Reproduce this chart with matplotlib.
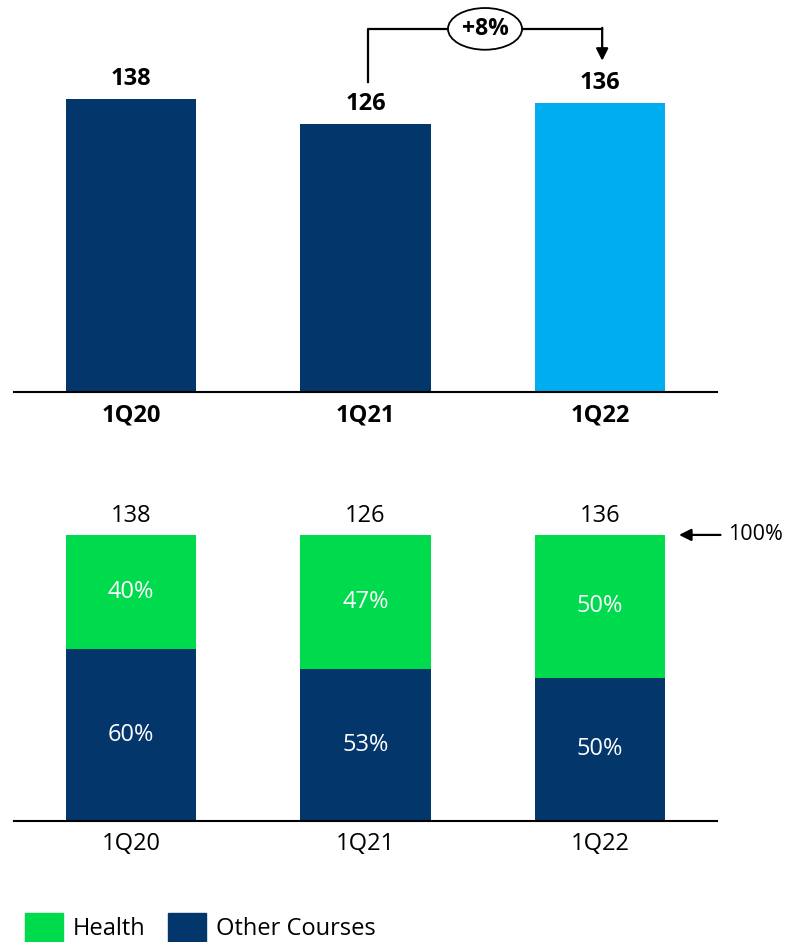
import matplotlib.pyplot as plt
from matplotlib.patches import Patch

plt.rcParams['font.family'] = ['Open Sans', 'DejaVu Sans']

# data
quarters = ['1Q20', '1Q21', '1Q22']
students = [138, 126, 136]
health_share = [0.40, 0.47, 0.50]
other_share = [0.60, 0.53, 0.50]
growth_label = '+8%'

navy = '#03366B'
light_blue = '#00AEEF'
green = '#00DB4E'

fig = plt.figure(figsize=(7.87, 9.42), dpi=100)
W, H = 787, 942

# top chart: total students
ax1 = fig.add_axes([14 / W, (H - 392) / H, 703 / W, 392 / H])
x = range(len(quarters))
bar_colors = [navy, navy, light_blue]
ax1.bar(x, students, width=0.556, color=bar_colors)
for xi, v in zip(x, students):
    ax1.annotate(str(v), (xi, v), xytext=(0, 6), textcoords='offset points',
                 ha='center', va='bottom', fontsize=17, fontweight='bold')
ax1.set_xlim(-0.5, 2.5)
ax1.set_ylim(0, 184.6)
ax1.set_xticks(list(x))
ax1.set_xticklabels(quarters, fontsize=17, fontweight='bold')
ax1.tick_params(axis='x', length=0, pad=8)
ax1.set_yticks([])
for s in ['top', 'left', 'right']:
    ax1.spines[s].set_visible(False)
ax1.spines['bottom'].set_linewidth(1.5)

# growth bracket from 1Q21 to 1Q22
ax1.plot([1.01, 1.01, 2.01], [146, 171, 171], color='black', lw=1.6, clip_on=False)
ax1.annotate('', xy=(2.01, 156), xytext=(2.01, 171.5),
             arrowprops=dict(arrowstyle='-|>', color='black', lw=1.6,
                             mutation_scale=18, shrinkA=0, shrinkB=0),
             annotation_clip=False)
ax1.text(1.51, 171, growth_label, ha='center', va='center', fontsize=16.5,
         fontweight='bold',
         bbox=dict(boxstyle='ellipse,pad=0.12', fc='white', ec='black', lw=1.3))

# bottom chart: mix by course type
ax2 = fig.add_axes([14 / W, (H - 821) / H, 703 / W, 331 / H])
ax2.bar(x, other_share, width=0.556, color=navy)
ax2.bar(x, health_share, width=0.556, bottom=other_share, color=green)
for xi, o, h, tot in zip(x, other_share, health_share, students):
    ax2.text(xi, o / 2, f'{o:.0%}', ha='center', va='center', color='white', fontsize=17)
    ax2.text(xi, o + h / 2, f'{h:.0%}', ha='center', va='center', color='white', fontsize=17)
    ax2.annotate(str(tot), (xi, o + h), xytext=(0, 5), textcoords='offset points',
                 ha='center', va='bottom', fontsize=17)
ax2.set_xlim(-0.5, 2.5)
ax2.set_ylim(0, 1.157)
ax2.set_xticks(list(x))
ax2.set_xticklabels(quarters, fontsize=17)
ax2.tick_params(axis='x', length=0, pad=8)
ax2.set_yticks([])
for s in ['top', 'left', 'right']:
    ax2.spines[s].set_visible(False)
ax2.spines['bottom'].set_linewidth(1.5)

ax2.annotate('', xy=(2.338, 1.0), xytext=(2.515, 1.0),
             arrowprops=dict(arrowstyle='-|>', color='black', lw=1.6,
                             mutation_scale=18, shrinkA=0, shrinkB=0),
             annotation_clip=False)
ax2.text(2.548, 1.0, '100%', ha='left', va='center', fontsize=15.5, clip_on=False)

handles = [Patch(color=green, label='Health'), Patch(color=navy, label='Other Courses')]
fig.legend(handles=handles, loc='lower left', bbox_to_anchor=(25 / W, 0),
           ncol=2, frameon=False, fontsize=17, handlelength=1.6, handleheight=1.5,
           handletextpad=0.42, columnspacing=0.97, borderpad=0, borderaxespad=0)

fig.savefig('out.png', dpi=100)
